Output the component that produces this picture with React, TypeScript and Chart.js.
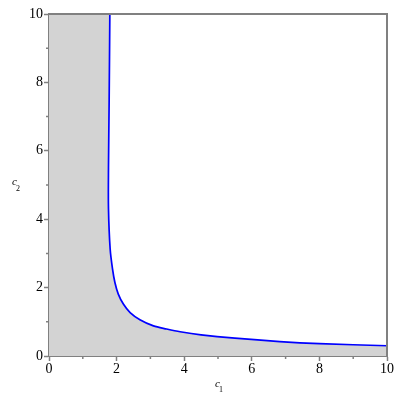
import React, { useEffect, useRef } from "react";
import { Chart, registerables } from "chart.js";

Chart.register(...registerables);

// Boundary curve (c1, c2)
const c1Curve = [1.8, 1.78, 1.76, 1.76, 1.81, 1.88, 1.95, 2.05, 2.2, 2.4, 2.69, 3.09, 3.48, 3.88, 4.5, 5.5, 6.83, 8.0, 10];
const c2Curve = [10, 7.5, 5.5, 4.3, 3.12, 2.54, 2.15, 1.81, 1.52, 1.27, 1.06, 0.88, 0.79, 0.71, 0.62, 0.52, 0.42, 0.36, 0.3];
const xTicks = [0, 2, 4, 6, 8, 10];
const yTicks = [0, 2, 4, 6, 8, 10];
const xMinorTicks = [1, 3, 5, 7, 9];
const yMinorTicks = [1, 3, 5, 7, 9];

const GREY = "#808080";
const FILL = "#d3d3d3";
const FONT = "'Liberation Serif', 'Times New Roman', Times, serif";

export default function App() {
  const ref = useRef<HTMLCanvasElement>(null);
  useEffect(() => {
    let chart: Chart | null = null;
    let cancelled = false;
    const curve = c1Curve.map((x, i) => ({ x, y: c2Curve[i] }));
    const region = [{ x: xTicks[0], y: yTicks[yTicks.length - 1] }, ...curve];

    const decor = {
      id: "decor",
      afterDraw(ch: any) {
        const { ctx, chartArea: a, scales } = ch;
        ctx.save();
        ctx.strokeStyle = GREY;
        ctx.lineWidth = 2;
        ctx.beginPath();
        ctx.moveTo(a.left - 1, a.top);
        ctx.lineTo(a.right, a.top);
        ctx.lineTo(a.right, a.bottom + 1);
        ctx.stroke();
        // minor ticks
        ctx.lineWidth = 1.5;
        ctx.beginPath();
        xMinorTicks.forEach((v) => {
          const px = scales.x.getPixelForValue(v);
          ctx.moveTo(px, a.bottom);
          ctx.lineTo(px, a.bottom + 3);
        });
        yMinorTicks.forEach((v) => {
          const py = scales.y.getPixelForValue(v);
          ctx.moveTo(a.left, py);
          ctx.lineTo(a.left - 3, py);
        });
        ctx.stroke();
        // axis titles
        ctx.fillStyle = "#000";
        ctx.textBaseline = "alphabetic";
        ctx.textAlign = "left";
        const cx = (a.left + a.right) / 2;
        ctx.font = `italic 11px ${FONT}`;
        ctx.fillText("c", cx - 3, 387);
        ctx.fillText("c", 12, 185);
        ctx.font = `8px ${FONT}`;
        ctx.fillText("1", cx + 1, 392);
        ctx.fillText("2", 16, 191);
        ctx.restore();
      },
    };

    const build = () => {
      if (cancelled || !ref.current) return;
      chart = new Chart(ref.current, {
        type: "scatter",
        data: {
          datasets: [
            {
              data: curve,
              showLine: true,
              borderColor: "#0000ff",
              borderWidth: 1.7,
              pointRadius: 0,
              tension: 0.3,
              fill: false,
              order: 0,
            },
            {
              data: region,
              showLine: true,
              borderWidth: 0,
              borderColor: "rgba(0,0,0,0)",
              backgroundColor: FILL,
              pointRadius: 0,
              tension: 0,
              fill: "origin",
              order: 1,
            },
          ],
        },
        options: {
          responsive: false,
          animation: false,
          layout: { padding: { top: 14, right: 13, left: 0, bottom: 0 } },
          plugins: { legend: { display: false }, tooltip: { enabled: false } },
          scales: {
            x: {
              type: "linear",
              position: "bottom",
              min: 0,
              max: 10,
              afterFit: (s: any) => {
                s.height = 44;
              },
              afterBuildTicks: (s: any) => {
                s.ticks = xTicks.map((v) => ({ value: v }));
              },
              ticks: {
                color: "#000",
                font: { family: FONT, size: 14 },
                padding: 0,
                maxRotation: 0,
                autoSkip: false,
              },
              grid: { drawOnChartArea: false, drawTicks: true, tickLength: 5, tickColor: GREY, tickWidth: 1.5 },
              border: { color: GREY, width: 2 },
            },
            y: {
              type: "linear",
              min: 0,
              max: 10,
              afterFit: (s: any) => {
                s.width = 49;
              },
              afterBuildTicks: (s: any) => {
                s.ticks = yTicks.map((v) => ({ value: v }));
              },
              ticks: {
                color: "#000",
                font: { family: FONT, size: 14 },
                padding: 1,
                autoSkip: false,
              },
              grid: { drawOnChartArea: false, drawTicks: true, tickLength: 5, tickColor: GREY, tickWidth: 1.5 },
              border: { color: GREY, width: 2 },
            },
          },
        },
        plugins: [decor],
      });
    };

    const fontsReady = (document as any).fonts
      ? Promise.all([
          (document as any).fonts.load(`14px "Liberation Serif"`),
          (document as any).fonts.load(`italic 11px "Liberation Serif"`),
        ]).catch(() => null)
      : Promise.resolve(null);
    fontsReady.then(build);

    return () => {
      cancelled = true;
      if (chart) chart.destroy();
    };
  }, []);
  return (
    <div style={{ position: "absolute", left: 0, top: 0, width: 400, height: 400, background: "#fff" }}>
      <canvas ref={ref} width={400} height={400} />
    </div>
  );
}
